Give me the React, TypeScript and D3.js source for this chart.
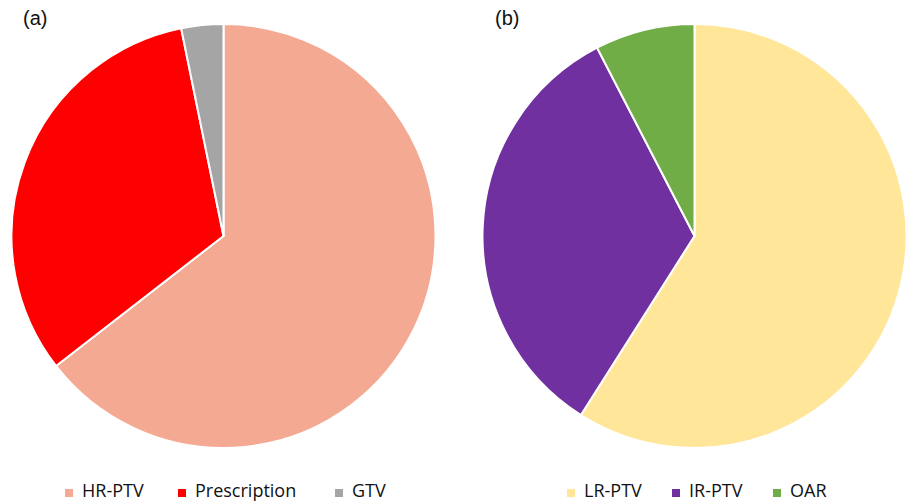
import React from "react";
import * as d3 from "d3";

const categoriesA = ["HR-PTV", "Prescription", "GTV"];
const valuesA = [64.5, 32.3, 3.2];
const colorsA = ["#F4A992", "#FF0000", "#A5A5A5"];

const categoriesB = ["LR-PTV", "IR-PTV", "OAR"];
const valuesB = [59.0, 33.4, 7.6];
const colorsB = ["#FFE699", "#7030A0", "#70AD47"];

const panelLabels = ["(a)", "(b)"];

function Pie({ cx, cy, r, values, colors }: { cx: number; cy: number; r: number; values: number[]; colors: string[] }) {
  const pie = d3.pie<number>().sort(null).value((d) => d);
  const arc = d3.arc<d3.PieArcDatum<number>>().innerRadius(0).outerRadius(r);
  const arcs = pie(values);
  return (
    <g transform={`translate(${cx},${cy})`}>
      {arcs.map((a, i) => (
        <path key={i} d={arc(a) || ""} fill={colors[i]} stroke="#fff" strokeWidth={2} strokeLinejoin="round" />
      ))}
    </g>
  );
}

function Legend({ x, y, cats, colors, gaps }: { x: number; y: number; cats: string[]; colors: string[]; gaps: number[] }) {
  let cur = x;
  const items = cats.map((c, i) => {
    const sx = cur;
    cur += gaps[i];
    return (
      <g key={c}>
        <rect x={sx} y={y - 8} width={8} height={8} fill={colors[i]} />
        <text x={sx + 17} y={y} fontFamily="'Open Sans', sans-serif" fontSize={18} fill="#111">
          {c}
        </text>
      </g>
    );
  });
  return <g>{items}</g>;
}

export default function App() {
  const r = 212;
  return (
    <svg width={912} height={502} style={{ position: "absolute", left: 0, top: 0, background: "#fff" }}>
      <rect width={912} height={502} fill="#fff" />
      <Pie cx={223.5} cy={236} r={r} values={valuesA} colors={colorsA} />
      <Pie cx={694.5} cy={236} r={r} values={valuesB} colors={colorsB} />
      <text x={23} y={25} fontFamily="'Liberation Sans', Arial, sans-serif" fontSize={20} fill="#111">{panelLabels[0]}</text>
      <text x={495} y={25} fontFamily="'Liberation Sans', Arial, sans-serif" fontSize={20} fill="#111">{panelLabels[1]}</text>
      <Legend x={65} y={497} cats={categoriesA} colors={colorsA} gaps={[113, 157]} />
      <Legend x={567} y={497} cats={categoriesB} colors={colorsB} gaps={[105, 101]} />
    </svg>
  );
}
